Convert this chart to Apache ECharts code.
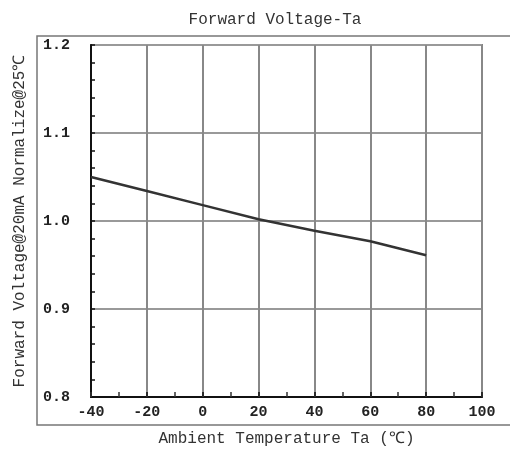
<!DOCTYPE html>
<html>
<head>
<meta charset="utf-8">
<script src="https://cdn.jsdelivr.net/npm/echarts@6/dist/echarts.min.js"></script>
<style>html,body{margin:0;padding:0;background:#fff}#c{width:510px;height:453px}</style>
</head>
<body>
<div id="c"></div>
<script>
var temps = [-40, -20, 0, 20, 40, 60, 80];
var vfNorm = [1.050, 1.034, 1.018, 1.002, 0.989, 0.977, 0.961];
var xTicks = [-40, -20, 0, 20, 40, 60, 80, 100];
var yTicks = [0.8, 0.9, 1.0, 1.1, 1.2];
var titleText = 'Forward Voltage-Ta';
var xName = 'Ambient Temperature Ta (\u2103)';
var yName = 'Forward Voltage@20mA Normalize@25\u2103';

var chart = echarts.init(document.getElementById('c'), null, {renderer: 'canvas'});
var font = '"Liberation Mono", "DejaVu Sans Mono", monospace';
var xMin = xTicks[0], xMax = xTicks[xTicks.length - 1];
var yMin = yTicks[0], yMax = yTicks[yTicks.length - 1];
chart.setOption({
  animation: false,
  backgroundColor: '#fff',
  title: {
    text: titleText, left: 270, top: 7, textAlign: 'center',
    textStyle: {fontFamily: font, fontSize: 16, fontWeight: 'normal', color: '#333'}
  },
  graphic: [{
    type: 'rect', shape: {x: 37, y: 36, width: 480, height: 389},
    style: {fill: 'none', stroke: '#777', lineWidth: 1.5}, z: 0
  }],
  grid: {left: 91, right: 28, top: 45, bottom: 56, show: true, borderColor: '#222', borderWidth: 1.5, backgroundColor: 'transparent'},
  xAxis: [{
    type: 'value', min: xMin, max: xMax, interval: 20, position: 'bottom',
    name: xName, nameLocation: 'middle', nameGap: 34,
    nameTextStyle: {fontFamily: font, fontSize: 16, color: '#333'},
    axisLine: {onZero: false, lineStyle: {color: '#111', width: 2}},
    axisTick: {show: true, inside: true, length: 5, lineStyle: {color: '#111', width: 2}},
    axisLabel: {fontFamily: font, fontSize: 15, fontWeight: 'bold', color: '#222', margin: 8},
    splitLine: {show: true, lineStyle: {color: '#888', width: 2}}
  }, {
    type: 'value', min: xMin, max: xMax, interval: 10, position: 'bottom', offset: 0,
    axisLine: {show: false, onZero: false},
    axisTick: {show: true, inside: true, length: 5, lineStyle: {color: '#333', width: 1.5}},
    axisLabel: {show: false}, splitLine: {show: false}
  }],
  yAxis: [{
    type: 'value', min: yMin, max: yMax, interval: 0.1, position: 'left',
    name: yName, nameLocation: 'middle', nameGap: 63, nameRotate: 90,
    nameTextStyle: {fontFamily: font, fontSize: 16, color: '#333'},
    axisLine: {onZero: false, lineStyle: {color: '#111', width: 2}},
    axisTick: {show: false},
    axisLabel: {fontFamily: font, fontSize: 15, fontWeight: 'bold', color: '#222', margin: 21,
      formatter: function (v) { return v.toFixed(1); }},
    splitLine: {show: true, lineStyle: {color: '#999', width: 2}}
  }, {
    type: 'value', min: yMin, max: yMax, interval: 0.02, position: 'left', offset: 0,
    axisLine: {show: false, onZero: false},
    axisTick: {show: true, inside: true, length: 4, lineStyle: {color: '#111', width: 1.5}},
    axisLabel: {show: false}, splitLine: {show: false}
  }],
  series: [{
    type: 'line', xAxisIndex: 0, yAxisIndex: 0,
    data: temps.map(function (t, i) { return [t, vfNorm[i]]; }),
    symbol: 'none', lineStyle: {color: '#333', width: 2.5}
  }]
});
</script>
</body>
</html>
